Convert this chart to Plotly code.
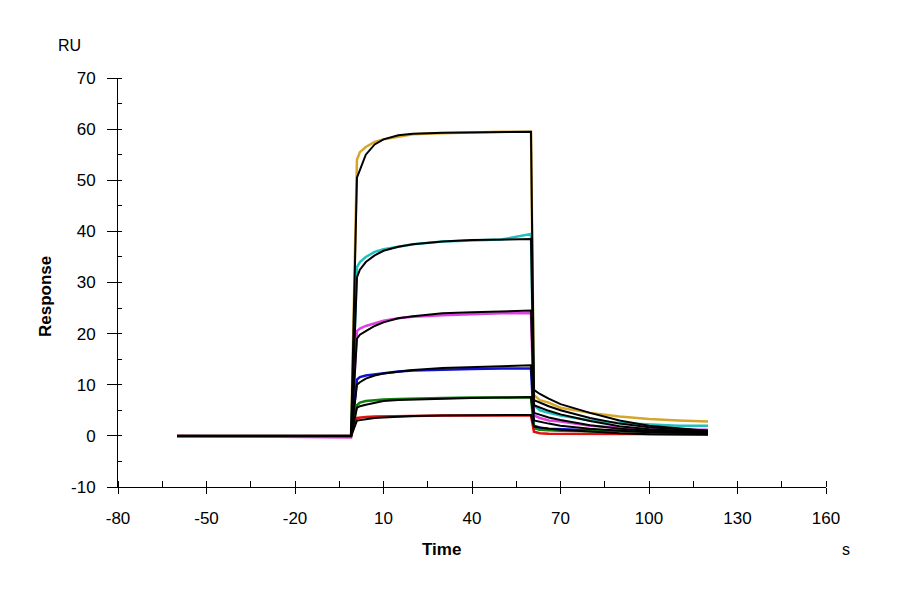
import plotly.graph_objects as go

# sampled times (s)
t = [-60, -1, 1, 2, 4, 7, 10, 15, 20, 30, 40, 50, 60, 61, 63, 66, 70, 80, 90, 100, 110, 120]

# measured responses (RU)
gold = [0, 0, 54, 55.5, 56.5, 57.5, 58, 58.5, 59, 59.2, 59.4, 59.5, 59.5, 8, 7, 6.5, 5.5, 4.5, 3.8, 3.3, 3, 2.8]
cyan = [0, 0, 33, 34, 35, 36, 36.5, 37, 37.5, 38, 38.2, 38.4, 39.5, 6, 5, 4.5, 4, 3, 2.5, 2.2, 2, 2]
magenta = [0, -0.3, 20.5, 21, 21.5, 22, 22.5, 23, 23.3, 23.6, 23.8, 24, 24, 4, 3.5, 3, 2.8, 2, 1.6, 1.3, 1.2, 1.2]
blue = [0, 0, 11, 11.5, 11.8, 12, 12.3, 12.6, 12.8, 13, 13.1, 13.2, 13.2, 2, 1.6, 1.4, 1.3, 1.1, 1, 0.9, 0.8, 0.8]
green = [0, 0, 6, 6.5, 6.8, 7, 7.1, 7.2, 7.3, 7.4, 7.5, 7.5, 7.5, 1.5, 1.2, 1.1, 1, 0.9, 0.9, 0.8, 0.8, 0.8]
red = [0, 0, 3.5, 3.6, 3.7, 3.8, 3.8, 3.9, 3.9, 4, 4, 4, 4, 0.8, 0.5, 0.4, 0.4, 0.3, 0.3, 0.3, 0.3, 0.3]

# fitted curves (RU)
fit_gold = [0, 0, 50.5, 52, 55, 57, 58, 58.8, 59.1, 59.3, 59.4, 59.5, 59.5, 9, 8.2, 7.3, 6.2, 4.5, 3, 2, 1.5, 1]
fit_cyan = [0, 0, 31, 32.5, 34, 35.3, 36.2, 37, 37.5, 38, 38.3, 38.4, 38.5, 7, 6.5, 5.8, 5, 3.5, 2.4, 1.7, 1.3, 1]
fit_magenta = [0, 0, 19, 19.8, 20.5, 21.5, 22.2, 23, 23.4, 24, 24.2, 24.4, 24.5, 6, 5.5, 4.9, 4.2, 2.9, 1.9, 1.3, 1, 0.8]
fit_blue = [0, 0, 10, 10.5, 11.2, 11.8, 12.2, 12.6, 12.9, 13.3, 13.5, 13.7, 13.8, 4.5, 4.1, 3.6, 3.1, 2.1, 1.4, 1, 0.8, 0.7]
fit_green = [0, 0, 5.5, 5.8, 6.1, 6.5, 6.8, 7, 7.1, 7.3, 7.4, 7.5, 7.6, 3, 2.7, 2.4, 2, 1.4, 1, 0.7, 0.6, 0.5]
fit_red = [0, 0, 3, 3.1, 3.3, 3.5, 3.6, 3.8, 3.9, 4, 4, 4, 4.1, 1.8, 1.6, 1.4, 1.2, 0.8, 0.5, 0.3, 0.25, 0.2]

xticks = [-80, -50, -20, 10, 40, 70, 100, 130, 160]
yticks = [-10, 0, 10, 20, 30, 40, 50, 60, 70]

fig = go.Figure()
series = [(gold, '#d4a72c'), (cyan, '#20c0c0'), (magenta, '#e040e0'),
          (blue, '#1010d0'), (green, '#108010'), (red, '#e01010')]
for vals, col in series:
    fig.add_trace(go.Scatter(x=t, y=vals, mode='lines', line=dict(color=col, width=2.5)))
for vals in [fit_gold, fit_cyan, fit_magenta, fit_blue, fit_green, fit_red]:
    fig.add_trace(go.Scatter(x=t, y=vals, mode='lines', line=dict(color='black', width=2)))


def px_note(text, px, py, size=17, **kw):
    # place text centred on a pixel of the 900x600 page (plot area 118..826 x 78..487)
    return dict(text=text, xref='paper', yref='paper', x=(px - 118) / 708, y=(487 - py) / 409,
                xanchor='center', yanchor='middle', showarrow=False, font=dict(size=size), **kw)


axis = dict(showgrid=False, zeroline=False, showline=True, linecolor='black', linewidth=1,
            ticks='outside', ticklen=6, tickcolor='black', tickfont=dict(size=17, color='black'))
fig.update_layout(
    width=900, height=600, showlegend=False,
    plot_bgcolor='white', paper_bgcolor='white',
    font=dict(family='Liberation Sans, Arial, sans-serif', color='black'),
    margin=dict(l=110, r=82, t=70, b=121),
    xaxis=dict(axis, range=[-80, 160], tickvals=xticks, ticktext=[str(v) for v in xticks],
               ticklabelstandoff=10,
               minor=dict(ticks='inside', ticklen=6, dtick=15, tick0=-80, tickcolor='black')),
    yaxis=dict(axis, range=[-10, 70], tickvals=yticks, ticktext=[str(v) for v in yticks],
               ticklen=10, ticklabelstandoff=8,
               minor=dict(ticks='inside', ticklen=4, dtick=5, tickcolor='black')),
    annotations=[
        px_note('RU', 69, 45, size=16),
        px_note('s', 846, 549, size=16),
        px_note('<b>Time</b>', 441, 549),
        px_note('<b>Response</b>', 45, 297, textangle=-90),
    ],
)

fig.write_html("out.html")
